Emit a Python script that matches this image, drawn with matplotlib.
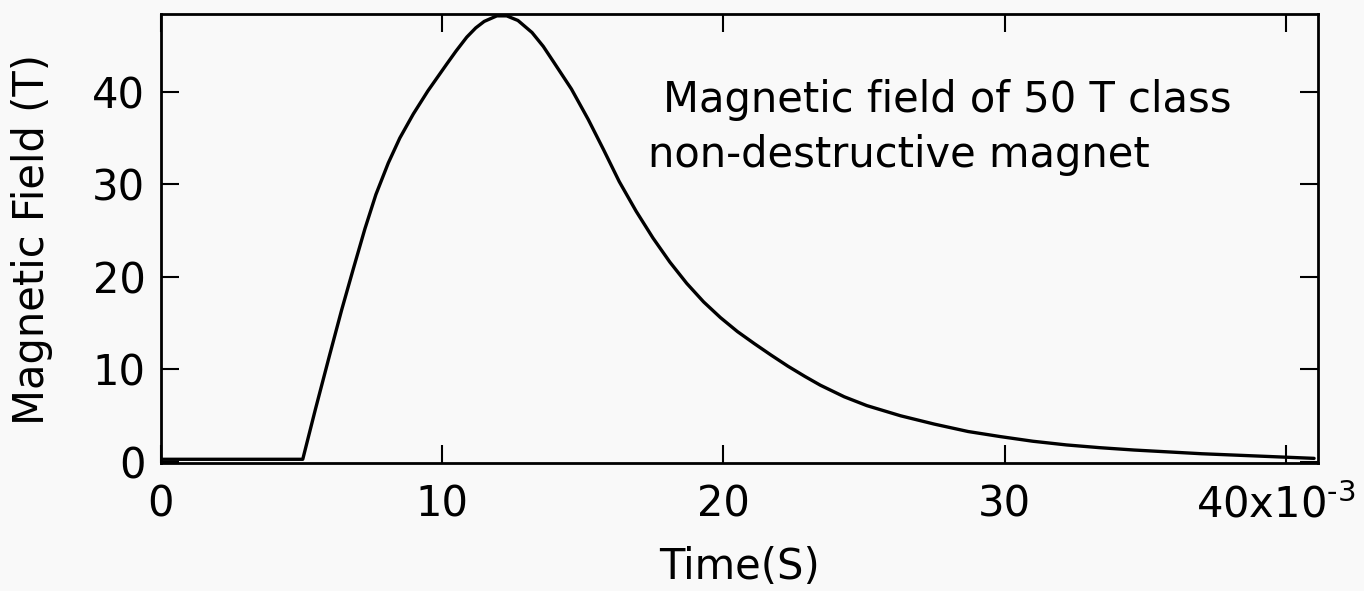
import matplotlib
matplotlib.use("Agg")
import matplotlib.pyplot as plt
from matplotlib.transforms import ScaledTranslation

# ---- data (time in ms, field in T) ----
time_ms = [0.0, 2.0, 4.5, 5.05, 5.5, 6.0, 6.43, 6.85, 7.26, 7.65, 8.09,
           8.5, 8.98, 9.5, 10.17, 10.5, 10.88, 11.2, 11.5, 11.95, 12.3,
           12.7, 13.2, 13.6, 13.95, 14.6, 15.2, 15.75, 16.3, 16.9, 17.5,
           18.1, 18.7, 19.3, 19.9, 20.5, 21.1, 21.7, 22.3, 22.9, 23.45,
           24.3, 25.1, 26.3, 27.5, 28.7, 29.85, 31.0, 32.2, 33.4, 34.6,
           35.8, 37.0, 38.2, 39.4, 40.2, 41.0]
field_T = [0.3, 0.3, 0.3, 0.3, 5.7, 11.5, 16.4, 20.9, 25.2, 28.9, 32.3,
           35.0, 37.6, 40.1, 43.0, 44.4, 45.9, 46.9, 47.6, 48.2, 48.2,
           47.7, 46.4, 44.9, 43.3, 40.3, 37.0, 33.7, 30.3, 27.1, 24.2,
           21.6, 19.3, 17.3, 15.6, 14.1, 12.8, 11.55, 10.35, 9.25, 8.3,
           7.05, 6.1, 5.0, 4.1, 3.3, 2.75, 2.25, 1.85, 1.55, 1.3,
           1.1, 0.9, 0.75, 0.6, 0.5, 0.4]

x_ticks = [0, 10, 20, 30, 40]
x_tick_labels = ["0", "10", "20", "30", "40x10$^{\u20103}$"]
y_ticks = [0, 10, 20, 30, 40]
y_tick_labels = ["0", "10", "20", "30", "40"]

x_label = "Time(S)"
y_label = "Magnetic Field (T)"
note_line1 = "Magnetic field of 50 T class"
note_line2 = "non-destructive magnet"

bg = "#f9f9f9"
plt.rcParams["font.family"] = ["DejaVu Sans"]
plt.rcParams["mathtext.fontset"] = "dejavusans"
plt.rcParams["mathtext.default"] = "regular"

fig = plt.figure(figsize=(13.64, 5.91), dpi=100, facecolor=bg)
ax = fig.add_axes([0.1178, 0.2166, 0.8485, 0.7597])
ax.set_facecolor(bg)

ax.plot(time_ms, field_T, color="black", lw=2.4,
        solid_joinstyle="round", solid_capstyle="round")

ax.set_xlim(0, 41.14)
ax.set_ylim(-0.1, 48.4)

ax.set_xticks(x_ticks)
ax.set_xticklabels(x_tick_labels)
ax.set_yticks(y_ticks)
ax.set_yticklabels(y_tick_labels)

ax.tick_params(axis="both", direction="in", length=13, width=1.5,
               top=True, right=True, labelsize=30, color="black")
ax.tick_params(axis="x", pad=15)
ax.tick_params(axis="y", pad=11)

# nudge the last x tick label (with the exponent) left so it fits
last = ax.get_xticklabels()[-1]
last.set_transform(last.get_transform() +
                   ScaledTranslation(-10 / 100, 0, fig.dpi_scale_trans))

for sp in ax.spines.values():
    sp.set_linewidth(2.0)
    sp.set_color("black")

ax.set_xlabel(x_label, fontsize=30)
ax.xaxis.set_label_coords(0.5, -0.185)
ax.set_ylabel(y_label, fontsize=30)
ax.yaxis.set_label_coords(-0.093, 0.497)

ax.text(0.434, 0.7817, note_line1, transform=ax.transAxes, fontsize=30,
        ha="left", va="baseline")
ax.text(0.421, 0.659, note_line2, transform=ax.transAxes, fontsize=30,
        ha="left", va="baseline")

fig.savefig("out.png", dpi=100, facecolor=bg)
